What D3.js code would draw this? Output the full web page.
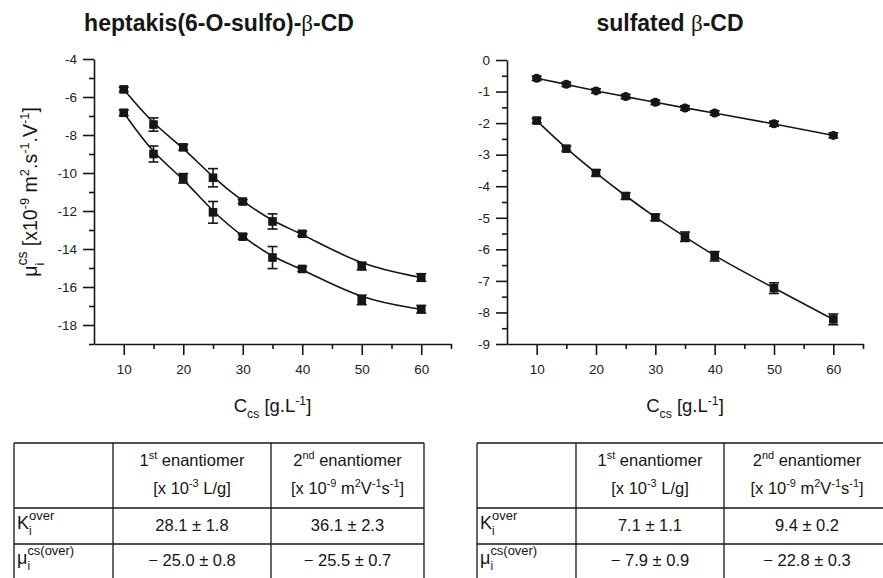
<!DOCTYPE html>
<html>
<head>
<meta charset="utf-8">
<script src="https://cdn.jsdelivr.net/npm/d3@7"></script>
<style>
  body { margin: 0; background: #fff; }
  svg { display: block; font-family: "Liberation Sans", Arial, Helvetica, sans-serif; }
  text { white-space: pre; }
</style>
</head>
<body>
<script>
// concentration of chiral selector [g/L]
var conc = [10, 15, 20, 25, 30, 35, 40, 50, 60];

// heptakis(6-O-sulfo)-b-CD
var heptaFirst = [-5.6, -7.45, -8.65, -10.25, -11.5, -12.55, -13.2, -14.9, -15.5];
var heptaFirstErr = [0.12, 0.35, 0.15, 0.48, 0.1, 0.4, 0.13, 0.2, 0.2];
var heptaSecond = [-6.83, -9.0, -10.28, -12.07, -13.35, -14.45, -15.05, -16.68, -17.17];
var heptaSecondErr = [0.15, 0.42, 0.25, 0.57, 0.13, 0.58, 0.13, 0.25, 0.2];

// sulfated b-CD
var sulfFirst = [-0.58, -0.77, -0.98, -1.16, -1.34, -1.52, -1.68, -2.02, -2.39];
var sulfFirstErr = [0.07, 0.07, 0.07, 0.07, 0.07, 0.07, 0.07, 0.08, 0.08];
var sulfSecond = [-1.92, -2.81, -3.58, -4.31, -4.99, -5.6, -6.22, -7.23, -8.22];
var sulfSecondErr = [0.07, 0.08, 0.1, 0.1, 0.1, 0.15, 0.15, 0.17, 0.17];

// ticks
var xTicks = [10, 20, 30, 40, 50, 60];
var xMinor = [15, 25, 35, 45, 55, 65];
var heptaYTicks = [-4, -6, -8, -10, -12, -14, -16, -18];
var heptaYMinor = [-5, -7, -9, -11, -13, -15, -17, -19];
var sulfYTicks = [0, -1, -2, -3, -4, -5, -6, -7, -8, -9];
var sulfYMinor = [-0.5, -1.5, -2.5, -3.5, -4.5, -5.5, -6.5, -7.5, -8.5];

// tables
var headLine1 = [
  [{t: '1'}, {t: 'st', s: 'sup'}, {t: ' enantiomer'}],
  [{t: '2'}, {t: 'nd', s: 'sup'}, {t: ' enantiomer'}]
];
var headLine2 = [
  [{t: '[x 10'}, {t: '-3', s: 'sup'}, {t: ' L/g]'}],
  [{t: '[x 10'}, {t: '-9', s: 'sup'}, {t: ' m'}, {t: '2', s: 'sup'}, {t: 'V'}, {t: '-1', s: 'sup'}, {t: 's'}, {t: '-1', s: 'sup'}, {t: ']'}]
];
var rowLabels = [
  {base: 'K', sub: 'i', sup: 'over'},
  {base: '\u03bc', sub: 'i', sup: 'cs(over)'}
];
var heptaTable = [['28.1 \u00b1 1.8', '36.1 \u00b1 2.3'], ['\u2212 25.0 \u00b1 0.8', '\u2212 25.5 \u00b1 0.7']];
var sulfTable = [['7.1 \u00b1 1.1', '9.4 \u00b1 0.2'], ['\u2212 7.9 \u00b1 0.9', '\u2212 22.8 \u00b1 0.3']];

var W = 883, H = 578;
var ink = '#161616';

var svg = d3.select('body').append('svg').attr('width', W).attr('height', H);

// text with sup / sub parts
function rich(g, x, y, parts, size, anchor) {
  var t = g.append('text').attr('x', x).attr('y', y)
    .attr('font-size', size).attr('fill', ink).attr('text-anchor', anchor || 'start');
  var shift = 0;
  parts.forEach(function(p) {
    var target = p.s == 'sup' ? -0.4 * size : p.s == 'sub' ? 0.32 * size : 0;
    t.append('tspan').attr('dy', target - shift)
      .attr('font-size', p.s ? size * 0.66 : size)
      .text(p.t);
    shift = target;
  });
  return t;
}

// letter with stacked sub + sup, returns end x
function stacked(g, x, y, lab, size) {
  var b = g.append('text').attr('x', x).attr('y', y).attr('font-size', size).attr('fill', ink).text(lab.base);
  var w = b.node().getComputedTextLength();
  var s1 = g.append('text').attr('x', x + w).attr('y', y + 0.36 * size).attr('font-size', size * 0.66).attr('fill', ink).text(lab.sub);
  var s2 = g.append('text').attr('x', x + w).attr('y', y - 0.5 * size).attr('font-size', size * 0.72).attr('fill', ink).text(lab.sup);
  return x + w + Math.max(s1.node().getComputedTextLength(), s2.node().getComputedTextLength());
}

var panels = [
  {
    title: 'heptakis(6-O-sulfo)-', tail: '-CD', tx: 219,
    xr: [94, 451], yr: [344, 59], ydom: [-19, -4], yt: heptaYTicks, ym: heptaYMinor,
    series: [
      {v: heptaFirst, e: heptaFirstErr, mark: 'square'},
      {v: heptaSecond, e: heptaSecondErr, mark: 'square'}
    ],
    ylabel: true
  },
  {
    title: 'sulfated ', tail: '-CD', tx: 670,
    xr: [507, 863], yr: [344, 60], ydom: [-9, 0], yt: sulfYTicks, ym: sulfYMinor,
    series: [
      {v: sulfFirst, e: sulfFirstErr, mark: 'circle'},
      {v: sulfSecond, e: sulfSecondErr, mark: 'square'}
    ]
  }
];

panels.forEach(function(p) {
  var x = d3.scaleLinear().domain([5, 65]).range(p.xr);
  var y = d3.scaleLinear().domain(p.ydom).range(p.yr);
  var g = svg.append('g');

  // title
  var tt = g.append('text').attr('x', p.tx).attr('y', 31).attr('text-anchor', 'middle')
    .attr('font-size', 23).attr('font-weight', 'bold').attr('fill', ink);
  tt.append('tspan').text(p.title);
  tt.append('tspan').attr('font-family', '"Liberation Serif", "DejaVu Serif", serif').attr('font-weight', 'normal').text('\u03b2');
  tt.append('tspan').text(p.tail);

  // axes
  g.append('g').attr('transform', 'translate(0,' + p.yr[0] + ')')
    .call(d3.axisBottom(x).tickValues(xTicks).tickSize(11).tickPadding(9).tickSizeOuter(0).tickFormat(function(d) { return String(d); }));
  g.append('g').attr('transform', 'translate(0,' + p.yr[0] + ')')
    .call(d3.axisBottom(x).tickValues(xMinor).tickSize(5).tickSizeOuter(0).tickFormat(''))
    .call(function(s) { s.select('.domain').remove(); });
  g.append('g').attr('transform', 'translate(' + p.xr[0] + ',0)')
    .call(d3.axisLeft(y).tickValues(p.yt).tickSize(11).tickPadding(6).tickSizeOuter(0).tickFormat(function(d) { return String(d); }));
  g.append('g').attr('transform', 'translate(' + p.xr[0] + ',0)')
    .call(d3.axisLeft(y).tickValues(p.ym).tickSize(5).tickSizeOuter(0).tickFormat(''))
    .call(function(s) { s.select('.domain').remove(); });

  g.selectAll('.domain, .tick line').attr('stroke', ink).attr('stroke-width', 1.6);
  g.selectAll('.tick text').attr('fill', '#222').attr('font-size', 13.5).attr('font-family', '"Liberation Sans", Arial, sans-serif');

  // x label
  rich(g, (p.xr[0] + p.xr[1]) / 2, 412, [{t: 'C'}, {t: 'cs', s: 'sub'}, {t: ' [g.L'}, {t: '-1', s: 'sup'}, {t: ']'}], 18.5, 'middle');

  // fitted curves, error bars and points
  var line = d3.line().x(function(d) { return x(d[0]); }).y(function(d) { return y(d[1]); }).curve(d3.curveBasis);
  p.series.forEach(function(s) {
    var pts = conc.map(function(c, i) { return [c, s.v[i], s.e[i]]; });
    g.append('path').datum(pts).attr('d', line).attr('fill', 'none').attr('stroke', ink).attr('stroke-width', 1.6);

    var eb = g.selectAll(null).data(pts).enter().append('g');
    eb.append('line').attr('x1', function(d) { return x(d[0]); }).attr('x2', function(d) { return x(d[0]); })
      .attr('y1', function(d) { return y(d[1] - d[2]); }).attr('y2', function(d) { return y(d[1] + d[2]); })
      .attr('stroke', ink).attr('stroke-width', 1.6);
    [1, -1].forEach(function(sg) {
      eb.append('line').attr('x1', function(d) { return x(d[0]) - 5; }).attr('x2', function(d) { return x(d[0]) + 5; })
        .attr('y1', function(d) { return y(d[1] + sg * d[2]); }).attr('y2', function(d) { return y(d[1] + sg * d[2]); })
        .attr('stroke', ink).attr('stroke-width', 1.6);
    });
    if (s.mark == 'circle') {
      g.selectAll(null).data(pts).enter().append('circle')
        .attr('cx', function(d) { return x(d[0]); }).attr('cy', function(d) { return y(d[1]); })
        .attr('r', 4.5).attr('fill', ink);
    } else {
      g.selectAll(null).data(pts).enter().append('rect')
        .attr('x', function(d) { return x(d[0]) - 4.3; }).attr('y', function(d) { return y(d[1]) - 4.3; })
        .attr('width', 8.6).attr('height', 8.6).attr('fill', ink);
    }
  });

  // y label
  if (p.ylabel) {
    var lg = g.append('g').attr('transform', 'translate(37,192) rotate(-90)');
    var probe = rich(lg, 0, 0, [{t: ' [x10'}, {t: '-9', s: 'sup'}, {t: ' m'}, {t: '2', s: 'sup'}, {t: '.s'}, {t: '-1', s: 'sup'}, {t: '.V'}, {t: '-1', s: 'sup'}, {t: ']'}], 19.5);
    var restW = probe.node().getComputedTextLength();
    var muEnd = stacked(lg, 0, 0, {base: '\u03bc', sub: 'i', sup: 'cs'}, 19.5);
    var total = muEnd + restW;
    lg.selectAll('text').attr('transform', 'translate(' + (-total / 2) + ',0)');
    probe.attr('x', muEnd);
  }
});

// tables
function drawTable(xs, vals) {
  var g = svg.append('g');
  var rows = [443, 508, 544];
  rows.forEach(function(r) {
    g.append('line').attr('x1', xs[0]).attr('x2', xs[xs.length - 1]).attr('y1', r).attr('y2', r)
      .attr('stroke', ink).attr('stroke-width', 1.3);
  });
  xs.forEach(function(c) {
    g.append('line').attr('x1', c).attr('x2', c).attr('y1', rows[0]).attr('y2', H)
      .attr('stroke', ink).attr('stroke-width', 1.3);
  });
  [0, 1].forEach(function(j) {
    var cx = (xs[j + 1] + xs[j + 2]) / 2;
    rich(g, cx, 466, headLine1[j], 16.5, 'middle');
    rich(g, cx, 494, headLine2[j], 16.5, 'middle');
  });
  rowLabels.forEach(function(lab, i) {
    stacked(g, xs[0] + 3, [529, 564][i], lab, 18);
    vals[i].forEach(function(v, j) {
      g.append('text').attr('x', (xs[j + 1] + xs[j + 2]) / 2).attr('y', [531, 566][i])
        .attr('text-anchor', 'middle').attr('font-size', 16.5).attr('fill', ink).text(v);
    });
  });
}
drawTable([14, 113, 271, 424], heptaTable);
drawTable([477, 576, 724, 890], sulfTable);
</script>
</body>
</html>
